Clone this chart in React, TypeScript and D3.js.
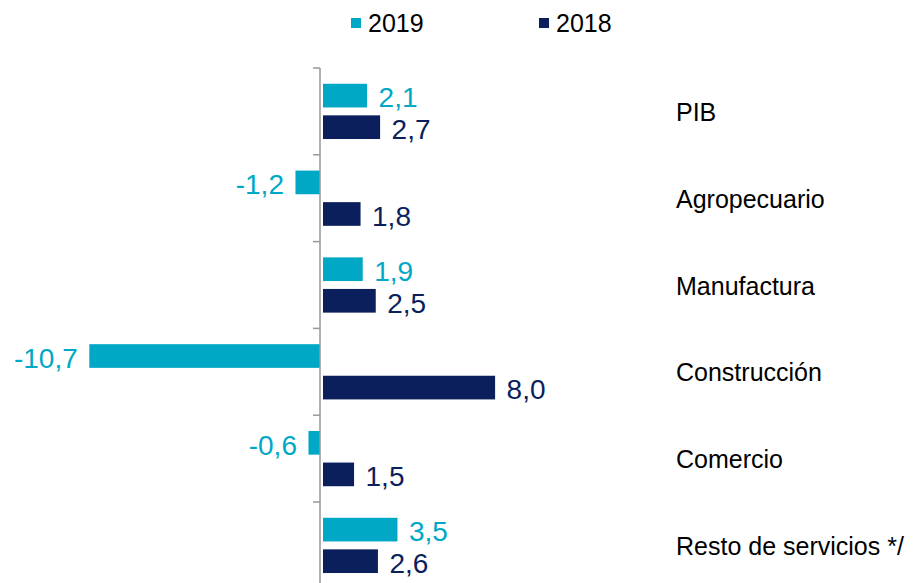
import React from "react";
import * as d3 from "d3";

const categories = ["PIB", "Agropecuario", "Manufactura", "Construcción", "Comercio", "Resto de servicios */"];
const seriesNames = ["2019", "2018"];
const values2019 = [2.1, -1.2, 1.9, -10.7, -0.6, 3.5];
const values2018 = [2.7, 1.8, 2.5, 8.0, 1.5, 2.6];
const colors = ["#00A8C6", "#0B1F5C"];

const W = 915;
const H = 583;

export default function App() {
  const series = [values2019, values2018];
  const x = d3.scaleLinear().domain([-12, 10]).range([321.5 - 12 * 21.7, 321.5 + 10 * 21.7]);
  const y = d3.scaleBand<string>().domain(categories).range([68, 588.8]).paddingInner(0).paddingOuter(0);
  const sub = d3.scaleBand<string>().domain(seriesNames).range([0, y.bandwidth()]).paddingInner(0.25).paddingOuter(0.5);
  const fmt = (v: number) => (v < 0 ? "-" : "") + d3.format(".1f")(Math.abs(v)).replace(".", ",");
  const axisX = 320;
  const bounds = [...categories.map((c) => y(c) as number), 588.8];

  return (
    <svg width={W} height={H} style={{ position: "absolute", left: 0, top: 0, fontFamily: "'Liberation Sans', Arial, sans-serif" }}>
      <rect width={W} height={H} fill="#fff" />
      {/* legend */}
      {seriesNames.map((s, i) => {
        const lx = i === 0 ? 351 : 539;
        return (
          <g key={s}>
            <rect x={lx} y={18} width={10} height={10} fill={colors[i]} />
            <text x={lx + 17} y={32} fontSize={25} fill="#000">{s}</text>
          </g>
        );
      })}
      {/* bars */}
      {categories.map((c, ci) => (
        <g key={c}>
          {series.map((vals, si) => {
            const v = vals[ci];
            const by = (y(c) as number) + (sub(seriesNames[si]) as number);
            const x0 = v < 0 ? x(v) : x(0) + 1.5;
            const x1 = v < 0 ? axisX : x(v);
            const cy = by + sub.bandwidth() / 2;
            return (
              <g key={si}>
                <rect x={x0} y={by} width={x1 - x0} height={sub.bandwidth()} fill={colors[si]} />
                <text
                  x={v >= 0 ? x1 + 11.5 : x0 - 11.5}
                  y={cy}
                  dy="0.42em"
                  textAnchor={v >= 0 ? "start" : "end"}
                  fontSize={28}
                  fill={colors[si]}
                >
                  {fmt(v)}
                </text>
              </g>
            );
          })}
          <text x={676} y={(y(c) as number) + y.bandwidth() / 2 + 9.5} fontSize={25} fill="#000">{c}</text>
        </g>
      ))}
      {/* axis */}
      <line x1={axisX} x2={axisX} y1={68} y2={590} stroke="#999" strokeWidth={1.5} />
      {bounds.map((b, i) => (
        <line key={i} x1={axisX - 7} x2={axisX} y1={b} y2={b} stroke="#999" strokeWidth={1.5} />
      ))}
    </svg>
  );
}
